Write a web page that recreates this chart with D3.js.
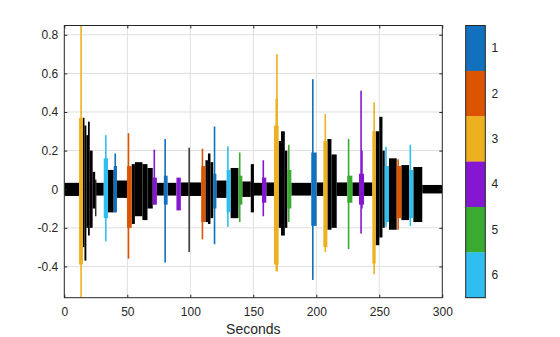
<!DOCTYPE html>
<html>
<head>
<meta charset="utf-8">
<script src="https://cdn.jsdelivr.net/npm/d3@7"></script>
<style>
  html, body { margin: 0; padding: 0; background: #fff; }
  svg { display: block; font-family: "Liberation Sans", Arial, Helvetica, sans-serif; }
</style>
</head>
<body>
<svg id="chart" width="560" height="337"></svg>
<script>
// ---- data ----
const xTicks = [0, 50, 100, 150, 200, 250, 300];
const yTicks = [-0.4, -0.2, 0, 0.2, 0.4, 0.6, 0.8];
const classLabels = ["1", "2", "3", "4", "5", "6"];
const xLabel = "Seconds";
const timeRange = [0, 300];
const ampRange = [-0.562, 0.848];

// unlabelled (black) signal envelope: [start s, end s, max, min]
const blackEnvelope = [
  [0, 11.7, 0.033, -0.035], [14.8, 16, 0.37, -0.30], [16, 17.5, 0.33, -0.37],
  [17.5, 18.8, 0.28, -0.20], [18.8, 20.2, 0.35, -0.24], [20.2, 22.5, 0.20, -0.20],
  [22.5, 24.5, 0.09, -0.10], [24.5, 25.3, 0.05, -0.14], [25.3, 31.3, 0.033, -0.033],
  [34.7, 39.2, 0.10, -0.12], [41.8, 49.8, 0.045, -0.045], [53.5, 56, 0.13, -0.18],
  [56, 62, 0.14, -0.14], [62, 66, 0.13, -0.16], [66, 70.2, 0.11, -0.10],
  [73.5, 79, 0.033, -0.033], [82, 89, 0.033, -0.033], [92.5, 98.6, 0.035, -0.035],
  [98.6, 99.4, 0.215, -0.325], [99.4, 108.7, 0.035, -0.035], [112, 114, 0.15, -0.17],
  [114, 116, 0.185, -0.18], [116, 118.2, 0.14, -0.15], [120.7, 128.8, 0.045, -0.045],
  [132, 138.2, 0.11, -0.15], [141.3, 148, 0.04, -0.04], [148, 150.5, 0.13, -0.12],
  [150.5, 156.9, 0.033, -0.033], [160.3, 166.4, 0.035, -0.035], [170.1, 172, 0.25, -0.20],
  [172, 175, 0.30, -0.24], [175, 177, 0.20, -0.20], [180.2, 196, 0.033, -0.033],
  [200.3, 205.6, 0.035, -0.035], [208.8, 212, 0.26, -0.21], [212, 216.2, 0.18, -0.20],
  [216.2, 224.6, 0.035, -0.035], [228.6, 233.9, 0.035, -0.035], [237.9, 244.5, 0.035, -0.035],
  [247.1, 250, 0.30, -0.29], [250, 252.5, 0.375, -0.25], [252.5, 254.3, 0.20, -0.20],
  [257.7, 263.8, 0.16, -0.21], [267.5, 273.6, 0.125, -0.16], [277, 284.1, 0.115, -0.17],
  [284.1, 300, 0.022, -0.022]
];

// labelled event bodies: [start s, end s, class, max, min]
const eventBodies = [
  [11.7, 14.8, 3, 0.37, -0.39], [31.3, 34.7, 6, 0.16, -0.15], [39.2, 41.8, 1, 0.12, -0.12],
  [49.8, 53.5, 2, 0.12, -0.20], [70.2, 73.5, 4, 0.06, -0.08], [79, 82, 1, 0.07, -0.08],
  [89, 92.5, 4, 0.06, -0.11], [108.7, 112, 2, 0.12, -0.17], [118.2, 120.7, 1, 0.08, -0.10],
  [128.8, 132, 6, 0.10, -0.12], [138.2, 141.3, 5, 0.07, -0.08], [156.9, 160.3, 4, 0.06, -0.07],
  [166.4, 170.1, 3, 0.33, -0.39], [177, 180.2, 5, 0.10, -0.10], [196, 200.3, 1, 0.19, -0.19],
  [205.6, 208.8, 3, 0.25, -0.30], [224.6, 228.6, 5, 0.07, -0.07], [233.9, 237.9, 4, 0.08, -0.08],
  [244.5, 247.1, 3, 0.30, -0.385], [254.3, 257.7, 6, 0.12, -0.17], [263.8, 267.5, 2, 0.12, -0.15],
  [273.6, 277, 6, 0.10, -0.15]
];

// labelled event peaks: [start s, end s, class, max, min]
const eventPeaks = [
  [12.7, 13.4, 3, 0.848, -0.562], [32.3, 33.1, 6, 0.28, -0.27], [39.8, 40.5, 1, 0.185, -0.12],
  [50.3, 51.0, 2, 0.29, -0.36], [70.8, 71.5, 4, 0.205, -0.08], [79.4, 80.2, 1, 0.26, -0.38],
  [109, 109.7, 2, 0.21, -0.26], [118.6, 119.3, 1, 0.325, -0.285], [129.2, 129.9, 6, 0.222, -0.195],
  [138.6, 139.3, 5, 0.19, -0.17], [157.3, 158, 4, 0.15, -0.14], [167.6, 169.5, 3, 0.47, -0.425],
  [168.1, 168.8, 3, 0.70, -0.425], [177.5, 178.2, 5, 0.23, -0.17], [196.6, 197.4, 1, 0.57, -0.47],
  [206.5, 207.2, 3, 0.39, -0.325], [225, 225.7, 5, 0.26, -0.31], [234.9, 235.6, 4, 0.51, -0.23],
  [235.6, 236.5, 4, 0.20, -0.10], [245.3, 246, 3, 0.45, -0.44], [254.7, 255.4, 6, 0.22, -0.195],
  [264.3, 265, 2, 0.155, -0.21], [274, 274.7, 6, 0.23, -0.19]
];

// ---- styles ----
const classColors = ["#1171BE", "#DD5400", "#EDB120", "#8516D1", "#3BAA32", "#2FBEEF"];
const axisColor = "#262626";
const gridColor = "#dfdfdf";

// ---- layout ----
const svg = d3.select("#chart");
const plot = { left: 64.3, right: 442.3, top: 25.5, bottom: 297.7 };
const cbar = { left: 465.7, right: 485.3 };

const x = d3.scaleLinear().domain(timeRange).range([plot.left, plot.right]);
const y = d3.scaleLinear().domain(ampRange).range([plot.bottom, plot.top]);

svg.append("defs").append("clipPath").attr("id", "clip")
  .append("rect").attr("x", plot.left).attr("y", plot.top)
  .attr("width", plot.right - plot.left).attr("height", plot.bottom - plot.top);

// grid
const grid = svg.append("g");
grid.selectAll("line.gx").data(xTicks.slice(1, -1)).join("line")
  .attr("x1", d => x(d)).attr("x2", d => x(d))
  .attr("y1", plot.top).attr("y2", plot.bottom)
  .attr("stroke", gridColor).attr("stroke-width", 1);
grid.selectAll("line.gy").data(yTicks).join("line")
  .attr("x1", plot.left).attr("x2", plot.right)
  .attr("y1", d => y(d)).attr("y2", d => y(d))
  .attr("stroke", gridColor).attr("stroke-width", 1);

// signal
const sig = svg.append("g").attr("clip-path", "url(#clip)");
function drawSegs(data, colorFn, minW) {
  sig.append("g").selectAll("rect").data(data).join("rect")
    .attr("x", d => x(d[0]))
    .attr("width", d => Math.max(minW, x(d[1]) - x(d[0])))
    .attr("y", d => y(d[d.length - 2]))
    .attr("height", d => y(d[d.length - 1]) - y(d[d.length - 2]))
    .attr("fill", colorFn);
}
drawSegs(blackEnvelope, () => "#000", 1.2);
drawSegs(eventBodies, d => classColors[d[2] - 1], 1.2);
drawSegs(eventPeaks, d => classColors[d[2] - 1], 1.6);

// axes
const fontSize = 12;
const xAxisB = d3.axisBottom(x).tickValues(xTicks).tickSize(-3).tickPadding(10).tickFormat(d3.format("d"));
const xAxisT = d3.axisTop(x).tickValues(xTicks).tickSize(-3).tickFormat("");
const yAxisL = d3.axisLeft(y).tickValues(yTicks).tickSize(-3).tickPadding(6).tickFormat(d => d === 0 ? "0" : d3.format(".1f")(d).replace("−", "-"));
const yAxisR = d3.axisRight(y).tickValues(yTicks).tickSize(-3).tickFormat("");

function styleAxis(g) {
  g.select(".domain").remove();
  g.selectAll("line").attr("stroke", axisColor);
  g.selectAll("text").attr("fill", axisColor).style("font-size", fontSize + "px")
    .style("font-family", '"Liberation Sans", Arial, Helvetica, sans-serif');
}
svg.append("g").attr("transform", `translate(0,${plot.bottom})`).call(xAxisB).call(styleAxis);
svg.append("g").attr("transform", `translate(0,${plot.top})`).call(xAxisT).call(styleAxis);
svg.append("g").attr("transform", `translate(${plot.left},0)`).call(yAxisL).call(styleAxis);
svg.append("g").attr("transform", `translate(${plot.right},0)`).call(yAxisR).call(styleAxis);

svg.append("rect")
  .attr("x", plot.left).attr("y", plot.top)
  .attr("width", plot.right - plot.left).attr("height", plot.bottom - plot.top)
  .attr("fill", "none").attr("stroke", axisColor).attr("stroke-width", 1);

svg.append("text")
  .attr("x", (plot.left + plot.right) / 2).attr("y", 333.5)
  .attr("text-anchor", "middle").attr("fill", axisColor)
  .style("font-size", "14px").text(xLabel);

// colorbar
const cb = d3.scaleBand().domain(classLabels).range([plot.top, plot.bottom]);
const cbg = svg.append("g");
cbg.selectAll("rect").data(classLabels).join("rect")
  .attr("x", cbar.left).attr("width", cbar.right - cbar.left)
  .attr("y", d => cb(d)).attr("height", cb.bandwidth() + 0.3)
  .attr("fill", (d, i) => classColors[i]);
cbg.append("rect")
  .attr("x", cbar.left).attr("y", plot.top)
  .attr("width", cbar.right - cbar.left).attr("height", plot.bottom - plot.top)
  .attr("fill", "none").attr("stroke", axisColor).attr("stroke-width", 1);
cbg.selectAll("text").data(classLabels).join("text")
  .attr("x", 491.5).attr("y", d => cb(d) + cb.bandwidth() / 2 + 4)
  .attr("fill", axisColor).style("font-size", fontSize + "px").text(d => d);
</script>
</body>
</html>
